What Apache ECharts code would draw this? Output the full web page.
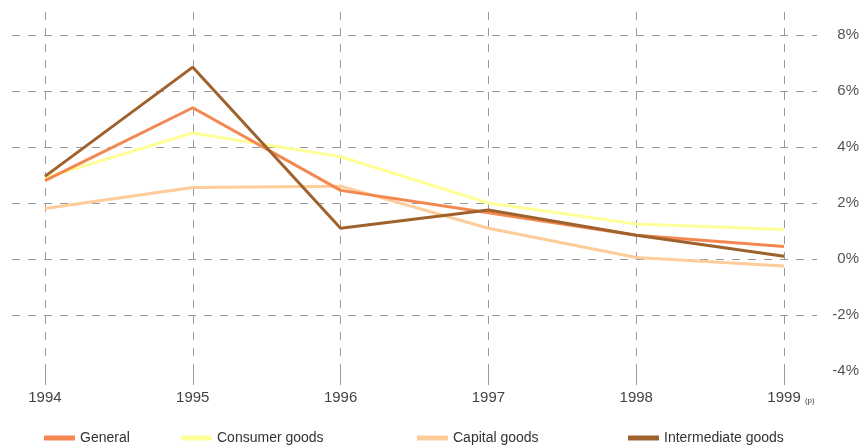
<!DOCTYPE html>
<html>
<head>
<meta charset="utf-8">
<script src="https://cdn.jsdelivr.net/npm/echarts@6/dist/echarts.min.js"></script>
<style>
  html, body { margin: 0; padding: 0; background: #fff; }
  #chart { width: 866px; height: 445px; }
</style>
</head>
<body>
<div id="chart"></div>
<script>
// years on the x axis (1999 is provisional)
var years = [1994, 1995, 1996, 1997, 1998, 1999];
var yTicks = [-4, -2, 0, 2, 4, 6, 8];

// % change
var general      = [2.8, 5.4, 2.45, 1.65, 0.85, 0.45];
var consumer     = [2.9, 4.5, 3.65, 2.0, 1.25, 1.05];
var capital      = [1.8, 2.55, 2.6, 1.1, 0.05, -0.25];
var intermediate = [2.95, 6.85, 1.1, 1.75, 0.85, 0.1];

var font = '"Liberation Sans Narrow", "Liberation Sans", Arial, sans-serif';
var gridGray = '#9a9a9a';

function pairs(vals) {
  return years.map(function (y, i) { return [y, vals[i]]; });
}

function line(name, vals, color, z) {
  return {
    name: name,
    type: 'line',
    data: pairs(vals),
    symbol: 'none',
    z: z,
    lineStyle: { color: color, width: 3 },
    itemStyle: { color: color }
  };
}

function legendAt(name, left) {
  return {
    data: [name],
    left: left,
    top: 426,
    itemWidth: 31,
    itemHeight: 5,
    icon: 'rect',
    textStyle: { fontFamily: font, fontSize: 14, color: '#333' }
  };
}

var chart = echarts.init(document.getElementById('chart'));
var option = {
  animation: false,
  backgroundColor: '#fff',
  grid: { left: 12, right: 49, top: 12, bottom: 74 },
  legend: [
    legendAt('General', 39),
    legendAt('Consumer goods', 176),
    legendAt('Capital goods', 412),
    legendAt('Intermediate goods', 623)
  ],
  xAxis: {
    type: 'value',
    min: 1993.777,
    max: 1999.223,
    axisLine: { show: false, onZero: false },
    axisTick: {
      show: true,
      customValues: years,
      length: 14,
      lineStyle: { color: gridGray }
    },
    axisLabel: {
      customValues: years,
      margin: 19,
      fontFamily: font,
      fontSize: 15,
      color: '#444',
      formatter: function (v) {
        if (v === 1999) return '{h|(p)} 1999 {p|(p)}';
        return String(v);
      },
      rich: {
        p: { fontFamily: font, fontSize: 8, color: '#444', verticalAlign: 'bottom' },
        h: { fontFamily: font, fontSize: 8, color: 'rgba(0,0,0,0)' }
      }
    },
    splitLine: {
      show: true,
      lineStyle: { color: gridGray, type: [8, 8], width: 1 }
    }
  },
  yAxis: {
    type: 'value',
    position: 'right',
    min: -4,
    max: 8.82,
    interval: 2,
    axisLine: { show: false },
    axisTick: { show: false },
    axisLabel: {
      customValues: yTicks,
      align: 'right',
      margin: 42,
      fontFamily: font,
      fontSize: 15,
      color: '#555',
      formatter: function (v) { return v + '%'; }
    },
    splitLine: {
      show: true,
      showMinLine: false,
      showMaxLine: false,
      lineStyle: { color: gridGray, type: [8, 8], width: 1 }
    }
  },
  series: [
    line('Capital goods', capital, '#ffcc99', 2),
    line('Consumer goods', consumer, '#ffff99', 3),
    line('General', general, '#f4874f', 4),
    line('Intermediate goods', intermediate, '#a0622d', 5)
  ]
};
chart.setOption(option);
</script>
</body>
</html>
